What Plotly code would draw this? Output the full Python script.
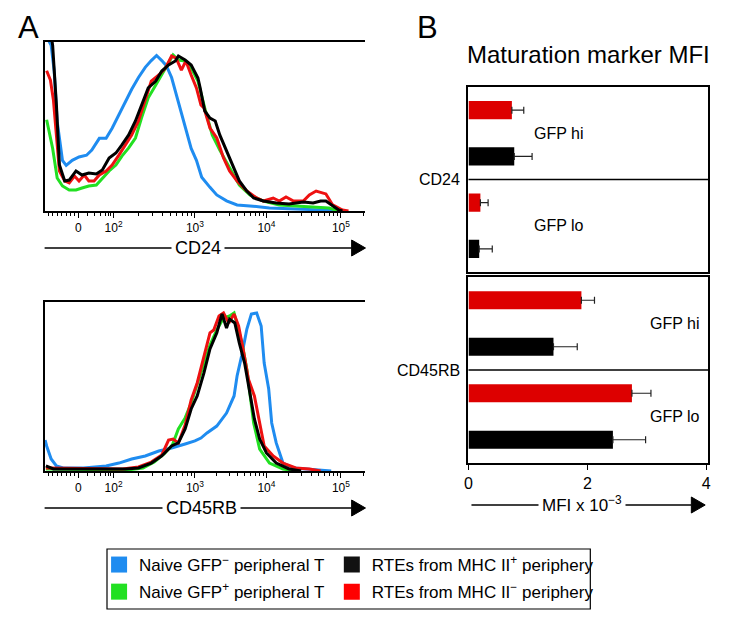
import math
import plotly.graph_objects as go

W, H = 729, 625
FONT = "Liberation Sans, Arial, sans-serif"

# ---------------- Panel A data: x = position on biexponential display (decade units), y = % of max
cd24_blue_x = [1.07,1.14,1.18,1.22,1.29,1.34,1.42,1.51,1.61,1.68,1.78,1.87,1.95,2.04,2.13,2.21,2.30,2.39,2.47,2.54,2.61,2.67,2.74,2.80,2.87,2.93,3.00,3.07,3.14,3.25,3.34,3.47,3.61,3.78,4.04,4.39,4.83,5.05]
cd24_blue_y = [104,98,83,53,30,27,30,32,33,36,43,43,49,57,65,72,79,85,89,92,89,86,79,69,58,48,37,30,20,14,9.5,6,3.6,3,1.8,1.2,0.6,0]

cd24_green_x = [1.08,1.12,1.16,1.22,1.29,1.38,1.47,1.55,1.64,1.74,1.82,1.91,2.00,2.08,2.17,2.26,2.34,2.43,2.53,2.61,2.70,2.76,2.83,2.92,3.00,3.09,3.18,3.28,3.38,3.51,3.64,3.78,3.96,4.17,4.39,4.62,4.83,4.92,5.01]
cd24_green_y = [54,45,37,19.5,14.8,12.4,12.4,13.6,14.8,15.4,19.5,23.7,27.2,32.5,37.3,43.2,55,67,74.6,80.5,87.6,92.3,89.3,88.8,84.6,76.9,61,45,36,25.4,15.4,9.5,5.9,3.6,3,2.4,1.8,0.6,0]

cd24_red_x = [1.08,1.13,1.17,1.21,1.25,1.32,1.38,1.45,1.51,1.58,1.64,1.71,1.78,1.87,1.95,2.04,2.13,2.21,2.30,2.39,2.47,2.57,2.66,2.74,2.80,2.87,2.93,3.00,3.07,3.13,3.17,3.25,3.34,3.43,3.51,3.61,3.74,3.87,3.96,4.09,4.17,4.26,4.36,4.49,4.57,4.66,4.79,4.88,5.01,5.09]
cd24_red_y = [83,77.5,65.7,43.2,23.7,17.8,16.6,20.7,17.8,21.3,17.8,17.8,21.3,23.7,27.2,33.1,39.1,45,53.3,65.1,76.9,80.5,84.6,91.7,90.5,83.4,88.8,80.5,72.8,62.7,61,49.1,43.2,31.4,23.7,17.8,11.8,7.7,5.9,7.7,5.9,8.3,5.9,5.9,9.5,11.8,10.1,3.6,0.6,0]

cd24_black_x = [1.06,1.14,1.16,1.21,1.25,1.32,1.38,1.47,1.55,1.64,1.74,1.82,1.91,2.00,2.08,2.17,2.26,2.34,2.43,2.53,2.61,2.70,2.79,2.83,2.92,3.00,3.09,3.12,3.18,3.25,3.32,3.38,3.47,3.57,3.64,3.74,3.83,3.96,4.13,4.30,4.49,4.62,4.72,4.79,4.88,4.96,5.01]
cd24_black_y = [104,104,98,62.7,27.2,17.8,18.3,23.7,21.3,22.5,21.9,24.3,31.4,34.3,39.1,45,53.3,62.7,72.8,76.9,82.8,86.4,88.8,91.7,89.3,86.4,78.7,72.8,59.2,55,53.3,45,35.5,25.4,17.8,11.8,7.7,5.9,4.7,4.1,5.3,4.7,5.9,5.9,3,0.6,0]

cd45_blue_x = [1.06,1.08,1.14,1.21,1.30,1.57,1.87,2.04,2.21,2.39,2.57,2.74,2.92,3.05,3.13,3.21,3.34,3.47,3.57,3.61,3.67,3.74,3.80,3.87,3.93,3.97,4.03,4.07,4.13,4.22,4.36,4.53,4.86]
cd45_blue_y = [18.3,14.8,7.1,3.0,1.8,1.8,3.0,4.7,7.1,8.9,11.8,13.6,16.0,17.8,19.5,22.5,26.6,34.3,44.4,56.2,68.0,84.0,92.9,93.5,85.8,63.9,48.5,28.4,16.6,4.7,1.8,1.2,0]

cd45_green_x = [1.07,2.16,2.36,2.51,2.64,2.75,2.83,2.92,3.00,3.09,3.17,3.25,3.34,3.43,3.51,3.57,3.63,3.68,3.74,3.78,3.83,3.91,4.04,4.22,4.39]
cd45_green_y = [1.2,0.6,1.8,5.3,10.1,15.4,24.9,31.4,40.2,52.1,62.7,74.6,83.4,90.5,91.7,93.5,83.4,74.6,60,46.2,28.4,13.0,4.7,1.2,0]

cd45_red_x = [1.07,2.09,2.30,2.47,2.61,2.70,2.76,2.83,2.92,3.00,3.08,3.17,3.25,3.30,3.37,3.43,3.50,3.57,3.63,3.70,3.76,3.84,3.91,3.97,4.09,4.22,4.39,4.57,4.72]
cd45_red_y = [1.8,1.2,2.4,5.3,9.5,18.3,18.9,16.6,27.2,42.0,52.1,68.0,81.7,83.4,91.7,93.5,87.6,92.9,85.8,69.8,54.4,44.4,28.4,14.8,8.9,4.7,1.8,1.2,0]

cd45_black_x = [1.07,1.17,2.13,2.30,2.47,2.61,2.74,2.83,2.92,3.00,3.08,3.17,3.25,3.34,3.41,3.47,3.51,3.58,3.64,3.71,3.78,3.84,3.91,4.00,4.13,4.30,4.46]
cd45_black_y = [3.0,1.2,1.2,1.8,4.7,8.9,14.8,16.6,24.9,36.7,44.4,58.0,72.2,81.7,92.9,84.6,89.9,87.6,75.7,63.9,46.2,30.8,18.9,10.7,4.7,1.2,0]

a_tick_vals = [1.50, 1.97, 3.05, 4.00, 4.99]
a_tick_text = ["0", "10<sup>2</sup>", "10<sup>3</sup>", "10<sup>4</sup>", "10<sup>5</sup>"]

# ---------------- Panel B data (MFI x 10^-3)
b_groups = ["GFP hi", "GFP lo"]
cd24_mhc_neg = [0.73, 0.20]
cd24_mhc_neg_err = [0.20, 0.13]
cd24_mhc_pos = [0.77, 0.18]
cd24_mhc_pos_err = [0.30, 0.22]
cd45_mhc_neg = [1.90, 2.75]
cd45_mhc_neg_err = [0.22, 0.32]
cd45_mhc_pos = [1.43, 2.43]
cd45_mhc_pos_err = [0.40, 0.55]
b_ticks = [0, 2, 4]

legend_names = ["Naive GFP<sup>\u2212</sup> peripheral T", "Naive GFP<sup>+</sup> peripheral T",
                "RTEs from MHC II<sup>+</sup> periphery", "RTEs from MHC II<sup>\u2212</sup> periphery"]

BLUE = "#1f8cf0"
GREEN = "#22e022"
RED = "#ee1111"
BLACK = "#000000"
BAR_RED = "#dd0000"


def X(px):
    return px / W


def Y(py):
    return 1 - py / H


fig = go.Figure()

# histograms
for ax, series in (("", [(cd24_blue_x, cd24_blue_y, BLUE), (cd24_green_x, cd24_green_y, GREEN),
                         (cd24_red_x, cd24_red_y, RED), (cd24_black_x, cd24_black_y, BLACK)]),
                   ("2", [(cd45_blue_x, cd45_blue_y, BLUE), (cd45_green_x, cd45_green_y, GREEN),
                          (cd45_red_x, cd45_red_y, RED), (cd45_black_x, cd45_black_y, BLACK)])):
    for xs, ys, col in series:
        fig.add_trace(go.Scatter(x=xs, y=ys, mode="lines", line=dict(color=col, width=3),
                                 xaxis="x" + ax, yaxis="y" + ax, showlegend=False, hoverinfo="skip"))

# bars
err_style = dict(type="data", symmetric=False, color="#222222", thickness=1.2, width=3.5)
fig.add_trace(go.Bar(x=cd24_mhc_neg, y=b_groups, orientation="h", marker=dict(color=BAR_RED, line=dict(width=0)),
                     error_x=dict(array=cd24_mhc_neg_err, arrayminus=[0, 0], **err_style),
                     xaxis="x4", yaxis="y4", showlegend=False))
fig.add_trace(go.Bar(x=cd24_mhc_pos, y=b_groups, orientation="h", marker=dict(color=BLACK, line=dict(width=0)),
                     error_x=dict(array=cd24_mhc_pos_err, arrayminus=[0, 0], **err_style),
                     xaxis="x4", yaxis="y4", showlegend=False))
fig.add_trace(go.Bar(x=cd45_mhc_neg, y=b_groups, orientation="h", marker=dict(color=BAR_RED, line=dict(width=0)),
                     error_x=dict(array=cd45_mhc_neg_err, arrayminus=[0, 0], **err_style),
                     xaxis="x3", yaxis="y3", showlegend=False))
fig.add_trace(go.Bar(x=cd45_mhc_pos, y=b_groups, orientation="h", marker=dict(color=BLACK, line=dict(width=0)),
                     error_x=dict(array=cd45_mhc_pos_err, arrayminus=[0, 0], **err_style),
                     xaxis="x3", yaxis="y3", showlegend=False))

# legend entries
for name, col, leg in ((legend_names[0], BLUE, "legend"), (legend_names[1], GREEN, "legend"),
                       (legend_names[2], "#111111", "legend2"), (legend_names[3], "#ff0000", "legend2")):
    fig.add_trace(go.Scatter(x=[None], y=[None], mode="markers", name=name, legend=leg, legendgroup=name,
                             marker=dict(symbol="square", size=17, color=col, line=dict(width=0))))

# minor ticks for biexponential axes
minor_vals = [1.10, 1.16, 1.22, 1.28, 1.34, 1.40, 1.45, 1.62, 1.72, 1.80, 1.86, 1.90, 1.93]
for i in range(1, 4):
    a, b = a_tick_vals[i], a_tick_vals[i + 1]
    for k in range(2, 10):
        minor_vals.append(a + math.log10(k) * (b - a))
for k in range(2, 4):
    minor_vals.append(a_tick_vals[4] + math.log10(k) * (a_tick_vals[4] - a_tick_vals[3]))

a_x = dict(range=[1.053, 5.316], showline=True, linewidth=1.6, linecolor="black", mirror=True,
           ticks="outside", ticklen=5, tickwidth=1.2, tickcolor="black",
           tickvals=a_tick_vals, ticktext=a_tick_text, tickfont=dict(size=12, family=FONT, color="black"),
           showgrid=False, zeroline=False,
           minor=dict(tickvals=minor_vals, ticks="outside", ticklen=3, tickwidth=1, tickcolor="black", showgrid=False))
a_y = dict(range=[0, 100], showline=True, linewidth=1.6, linecolor="black", mirror=False,
           showticklabels=False, ticks="", showgrid=False, zeroline=False)

b_x_common = dict(range=[0, 4.033], showline=True, linewidth=1.6, linecolor="black", mirror=True,
                  showgrid=False, zeroline=False)
b_y_common = dict(type="category", categoryorder="array", categoryarray=b_groups, range=[1.5, -0.5],
                  showline=True, linewidth=1.6, linecolor="black", mirror=True,
                  showticklabels=False, ticks="", showgrid=False, zeroline=False)

leg_common = dict(xanchor="left", yanchor="top", bgcolor="rgba(0,0,0,0)",
                  font=dict(size=17, family=FONT, color="black"), traceorder="grouped", tracegroupgap=2,
                  itemwidth=30, itemclick=False, itemdoubleclick=False)

fig.update_layout(
    width=W, height=H, margin=dict(l=0, r=0, t=0, b=0),
    paper_bgcolor="white", plot_bgcolor="white",
    font=dict(family=FONT, color="black"),
    barmode="group", bargap=0.0, bargroupgap=0.61,
    xaxis=dict(domain=[X(41), X(365)], anchor="y", **a_x),
    yaxis=dict(domain=[Y(211), Y(42)], anchor="x", **a_y),
    xaxis2=dict(domain=[X(41), X(365)], anchor="y2", **a_x),
    yaxis2=dict(domain=[Y(471), Y(302)], anchor="x2", **a_y),
    xaxis3=dict(domain=[X(469), X(711)], anchor="y3", tickvals=b_ticks, ticks="outside", ticklen=5,
                tickwidth=1.3, tickcolor="black", tickfont=dict(size=16, family=FONT, color="black"), **b_x_common),
    yaxis3=dict(domain=[Y(463), Y(277)], anchor="x3", **b_y_common),
    xaxis4=dict(domain=[X(469), X(711)], anchor="y4", matches="x3", showticklabels=False, ticks="", **b_x_common),
    yaxis4=dict(domain=[Y(272), Y(87)], anchor="x4", **b_y_common),
    legend=dict(x=X(96), y=Y(547), **leg_common),
    legend2=dict(x=X(331), y=Y(547), **leg_common),
)

shapes = []
# dividers inside panel B boxes
for xr, yr in (("x4", "y4"), ("x3", "y3")):
    shapes.append(dict(type="line", xref=xr + " domain", yref=yr, x0=0, x1=1, y0=0.5, y1=0.5,
                       line=dict(color="black", width=1.5)))
# axis-direction arrows
for x0, x1, yy in ((41, 351, 248), (41, 351, 508), (472, 694, 505)):
    shapes.append(dict(type="line", xref="paper", yref="paper", x0=X(x0), x1=X(x1), y0=Y(yy), y1=Y(yy),
                       line=dict(color="black", width=1.5)))
    tip = x1 + 14
    shapes.append(dict(type="path", xref="paper", yref="paper",
                       path=f"M {X(x1)},{Y(yy - 8)} L {X(tip)},{Y(yy)} L {X(x1)},{Y(yy + 8)} Z",
                       fillcolor="black", line=dict(color="black", width=1)))
# legend frame
shapes.append(dict(type="rect", xref="paper", yref="paper", x0=X(104), x1=X(592), y0=Y(609), y1=Y(549),
                   line=dict(color="black", width=1.2), fillcolor="rgba(0,0,0,0)"))
fig.update_layout(shapes=shapes)

C = dict(xanchor="center", yanchor="middle", showarrow=False)
ann = []
ann.append(dict(text="A", x=X(25), y=Y(28), xref="paper", yref="paper", font=dict(size=31, family=FONT), **C))
ann.append(dict(text="B", x=X(428), y=Y(28), xref="paper", yref="paper", font=dict(size=31, family=FONT), **C))
ann.append(dict(text="Maturation marker MFI", x=X(590), y=Y(55), xref="paper", yref="paper",
                font=dict(size=24, family=FONT), **C))
for txt, cx, cy, fs in (("CD24", 196, 248, 18), ("CD45RB", 199, 508, 18), ("MFI x 10<sup>\u22123</sup>", 584, 504, 17)):
    ann.append(dict(text=txt, x=X(cx), y=Y(cy), xref="paper", yref="paper",
                    bgcolor="white", borderpad=3, font=dict(size=fs, family=FONT), **C))
ann.append(dict(text="CD24", xref="x4 domain", yref="y4 domain", x=0, y=0.5, xanchor="right", yanchor="middle",
                xshift=-6, showarrow=False, font=dict(size=16, family=FONT)))
ann.append(dict(text="CD45RB", xref="x3 domain", yref="y3 domain", x=0, y=0.5, xanchor="right", yanchor="middle",
                xshift=-6, showarrow=False, font=dict(size=16, family=FONT)))
for g in b_groups:
    ann.append(dict(text=g, xref="x4", yref="y4", x=1.52, y=g, font=dict(size=16, family=FONT), **C))
    ann.append(dict(text=g, xref="x3", yref="y3", x=3.47, y=g, font=dict(size=16, family=FONT), **C))
fig.update_layout(annotations=ann)

fig.write_html("out.html", config={"displayModeBar": False},
               post_script="document.body.style.margin='0px';")
